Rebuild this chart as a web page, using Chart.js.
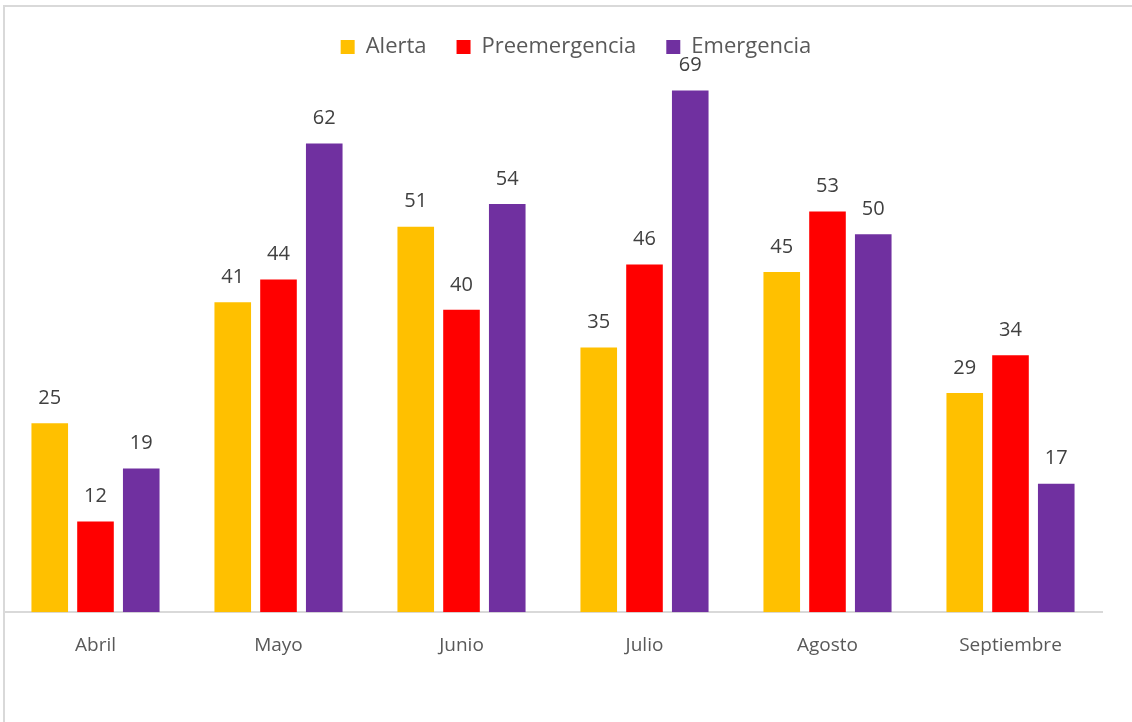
<!DOCTYPE html>
<html>
<head>
<meta charset="utf-8">
<script src="https://cdn.jsdelivr.net/npm/chart.js@4.4.0/dist/chart.umd.min.js"></script>
<style>
  html, body { margin: 0; padding: 0; background: #fff; overflow: hidden; }
  #wrap { position: relative; width: 1132px; height: 722px; }
  #frame { position: absolute; left: 3px; top: 5px; width: 1200px; height: 800px;
           border: 2px solid #d9d9d9; box-sizing: border-box; pointer-events: none; }
</style>
</head>
<body>
<div id="wrap">
  <canvas id="myChart" width="1132" height="722"></canvas>
  <div id="frame"></div>
</div>
<script>
const meses = ['Abril', 'Mayo', 'Junio', 'Julio', 'Agosto', 'Septiembre'];
const alerta = [25, 41, 51, 35, 45, 29];
const preemergencia = [12, 44, 40, 46, 53, 34];
const emergencia = [19, 62, 54, 69, 50, 17];

const fontFamily = "'Open Sans', 'Noto Sans', sans-serif";

// etiquetas de valor sobre cada barra
const valueLabels = {
  id: 'valueLabels',
  afterDatasetsDraw(chart) {
    const ctx = chart.ctx;
    ctx.save();
    ctx.font = '20px ' + fontFamily;
    ctx.fillStyle = '#404040';
    ctx.textAlign = 'center';
    ctx.textBaseline = 'middle';
    chart.data.datasets.forEach((ds, i) => {
      chart.getDatasetMeta(i).data.forEach((bar, j) => {
        ctx.fillText(ds.data[j], bar.x, bar.y - 25);
      });
    });
    ctx.restore();
  }
};

// deja mas espacio bajo la leyenda y la corre un poco a la derecha
const legendGap = {
  id: 'legendGap',
  beforeUpdate(chart) {
    const lg = chart.legend;
    if (lg && !lg._gapPatched) {
      const fit = lg.fit;
      lg.fit = function () { fit.call(this); this.height += 15; };
      lg._gapPatched = true;
    }
  },
  afterLayout(chart) {
    const lg = chart.legend;
    if (lg) { lg.left += 23; lg.right += 23; }
  }
};

function myChart() {
  const ctx = document.getElementById('myChart').getContext('2d');
  new Chart(ctx, {
    type: 'bar',
    data: {
      labels: meses,
      datasets: [
        { label: 'Alerta', data: alerta, backgroundColor: '#FFC000' },
        { label: 'Preemergencia', data: preemergencia, backgroundColor: '#FF0000' },
        { label: 'Emergencia', data: emergencia, backgroundColor: '#7030A0' }
      ]
    },
    options: {
      responsive: false,
      animation: false,
      layout: { padding: { left: 4, right: 30, top: 6, bottom: 51 } },
      datasets: { bar: { categoryPercentage: 0.75, barPercentage: 0.8 } },
      scales: {
        y: { display: false, beginAtZero: true, min: 0, max: 70 },
        x: {
          grid: { display: false },
          border: { display: true, color: '#d9d9d9', width: 2 },
          ticks: { color: '#595959', font: { family: fontFamily, size: 19 }, padding: 14 }
        }
      },
      plugins: {
        tooltip: { enabled: false },
        legend: {
          position: 'top',
          labels: {
            boxWidth: 14, boxHeight: 14, padding: 30,
            color: '#595959',
            font: { family: fontFamily, size: 22 }
          }
        }
      }
    },
    plugins: [valueLabels, legendGap]
  });
}
myChart();
</script>
</body>
</html>
